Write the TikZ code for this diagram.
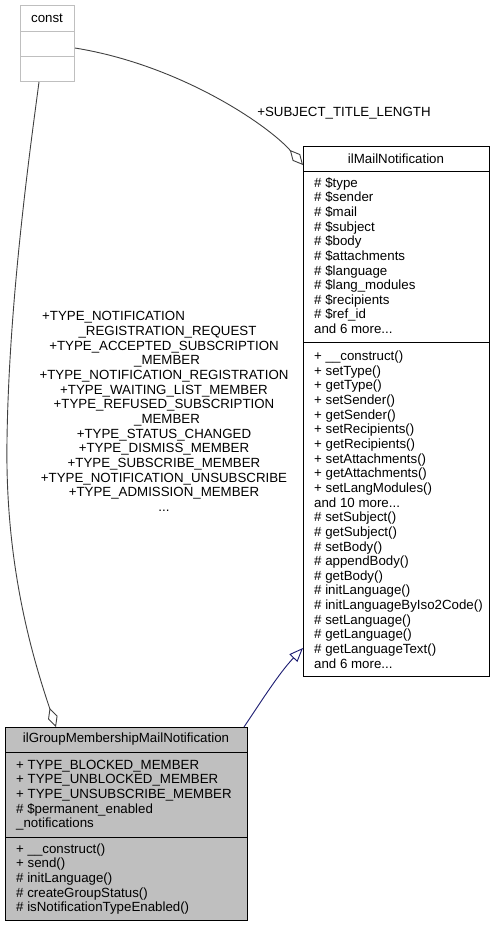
\documentclass[tikz,border=0pt]{standalone}
\usepackage{fontspec}
\setmainfont{Liberation Sans}
\usetikzlibrary{arrows.meta}
\definecolor{constgray}{HTML}{BFBFBF}
\definecolor{edgegray}{HTML}{404040}
\definecolor{inhblue}{HTML}{191970}
\definecolor{fillgray}{HTML}{BFBFBF}
\tikzset{
  classbox/.style={draw=black, line width=1pt, anchor=north west, inner sep=0pt},
  txt/.style={inner sep=0pt, font=\fontsize{13.3pt}{14.64pt}\selectfont},
  members/.style={txt, anchor=north west, align=left},
  aggline/.style={draw=edgegray, line width=0.9pt, {Diamond[open,length=20pt,width=10pt,line width=0.9pt]}-},
  inhline/.style={draw=inhblue, line width=0.9pt, -{Triangle[open,length=14pt,width=11pt,line width=0.9pt]}},
}
\newcommand{\fl}{\rule{0pt}{11pt}}
\begin{document}
\begin{tikzpicture}[x=1pt,y=-1pt]
\useasboundingbox (0,0) rectangle (495,927);
% const
\node[classbox, draw=constgray, minimum width=54pt, minimum height=76pt] (const) at (20,5) {};
\draw[constgray, line width=1pt] (20,31.5) -- (74,31.5) (20,56.5) -- (74,56.5);
\node[txt] (constT) at (47,18) {const};
% ilMailNotification
\node[classbox, minimum width=186pt, minimum height=530pt] (mail) at (303,146) {};
\draw[line width=1pt] (303,171) -- (489,171) (303,342) -- (489,342);
\node[txt] (mailT) at (396,158.5) {ilMailNotification};
\node[members] (mailA) at (314,176) {\fl\# \$type\\
\# \$sender\\
\# \$mail\\
\# \$subject\\
\# \$body\\
\# \$attachments\\
\# \$language\\
\# \$lang\_modules\\
\# \$recipients\\
\# \$ref\_id\\
and 6 more...};
\node[members] (mailM) at (314,349.5) {\fl+ \_\_construct()\\
+ setType()\\
+ getType()\\
+ setSender()\\
+ getSender()\\
+ setRecipients()\\
+ getRecipients()\\
+ setAttachments()\\
+ getAttachments()\\
+ setLangModules()\\
and 10 more...\\
\# setSubject()\\
\# getSubject()\\
\# setBody()\\
\# appendBody()\\
\# getBody()\\
\# initLanguage()\\
\# initLanguageByIso2Code()\\
\# setLanguage()\\
\# getLanguage()\\
\# getLanguageText()\\
and 6 more...};
% ilGroupMembershipMailNotification
\node[classbox, fill=fillgray, minimum width=242pt, minimum height=193pt] (ggm) at (5,727) {};
\draw[line width=1pt] (5,752) -- (247,752) (5,837) -- (247,837);
\node[txt] (ggmT) at (126,739.5) {ilGroupMembershipMailNotification};
\node[members] (ggmA) at (16,758) {\fl+ TYPE\_BLOCKED\_MEMBER\\
+ TYPE\_UNBLOCKED\_MEMBER\\
+ TYPE\_UNSUBSCRIBE\_MEMBER\\
\# \$permanent\_enabled\\
\_notifications};
\node[members] (ggmM) at (16,842) {\fl+ \_\_construct()\\
+ send()\\
\# initLanguage()\\
\# createGroupStatus()\\
\# isNotificationTypeEnabled()};
% connectors
\draw[aggline] ([yshift=-19pt]mail.north west) .. controls (268,125) and (180,65) .. ([yshift=-43pt]const.north east);
\node[txt] (lblA) at (344,113) {+SUBJECT\_TITLE\_LENGTH};
\draw[aggline] ([xshift=51pt]ggm.north west) .. controls (30,650) and (5,560) .. (7,440) .. controls (9,300) and (30,150) .. ([xshift=19pt]const.south west);
\node[txt, align=center] (lblB) at (164,411.5) {+TYPE\_NOTIFICATION\hspace*{101pt}\\
\hspace*{7pt}\_REGISTRATION\_REQUEST\\
+TYPE\_ACCEPTED\_SUBSCRIPTION\hspace*{26pt}\\
\hspace*{6pt}\_MEMBER\\
+TYPE\_NOTIFICATION\_REGISTRATION\\
+TYPE\_WAITING\_LIST\_MEMBER\\
+TYPE\_REFUSED\_SUBSCRIPTION\hspace*{31pt}\\
\hspace*{6pt}\_MEMBER\\
+TYPE\_STATUS\_CHANGED\\
+TYPE\_DISMISS\_MEMBER\\
+TYPE\_SUBSCRIBE\_MEMBER\\
+TYPE\_NOTIFICATION\_UNSUBSCRIBE\\
+TYPE\_ADMISSION\_MEMBER\\
...};
\draw[inhline] ([xshift=-4pt]ggm.north east) .. controls (262,700) and (280,672) .. ([yshift=-502pt]mail.north west);
\end{tikzpicture}
\end{document}
